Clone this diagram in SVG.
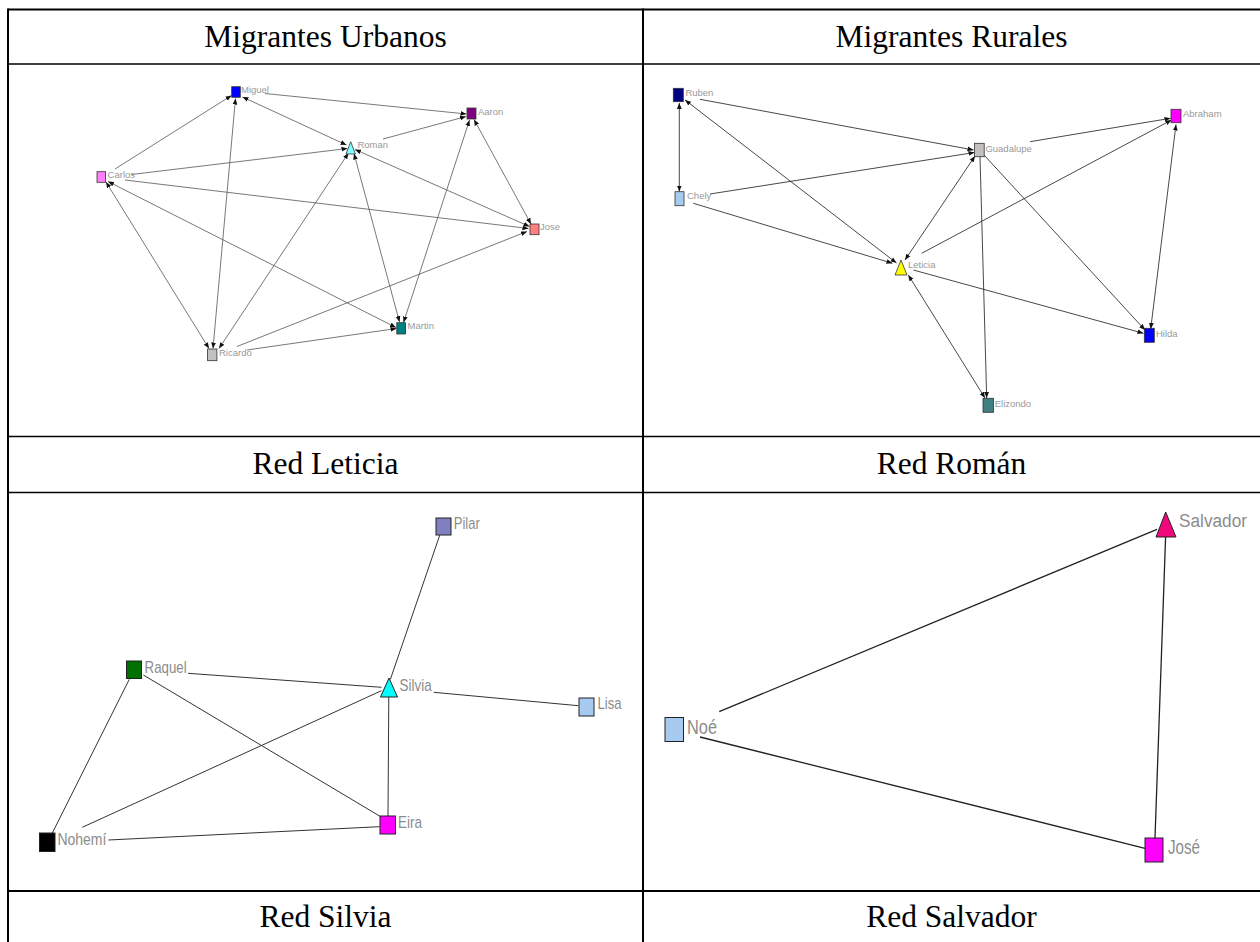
<svg xmlns="http://www.w3.org/2000/svg" width="1260" height="942" viewBox="0 0 1260 942">
<defs>
<marker id="ah" viewBox="0 0 10 10" refX="10" refY="5" markerWidth="6" markerHeight="6" markerUnits="userSpaceOnUse" orient="auto-start-reverse">
<path d="M0,1 L10,5 L0,9 z" fill="#111"/>
</marker>
<style>
.title{font-family:"Liberation Serif","Times New Roman",serif;font-size:31.5px;fill:#000;text-anchor:middle}
.grid{stroke:#000;stroke-width:2;fill:none}
.gridt{stroke:#000;stroke-width:1.5;fill:none}
.e1{stroke:#555;stroke-width:0.8;fill:none}
.e2{stroke:#333;stroke-width:0.9;fill:none}
.e3{stroke:#333;stroke-width:1;fill:none}
.e4{stroke:#222;stroke-width:1.3;fill:none}
.end{marker-end:url(#ah)}
.both{marker-start:url(#ah);marker-end:url(#ah)}
.n{stroke:#333;stroke-width:0.8}
.n3{stroke:#222;stroke-width:1}
.ls{font-family:"Liberation Sans",Arial,sans-serif;font-size:9.5px;fill:#999}
.lm{font-family:"Liberation Sans",Arial,sans-serif;font-size:17px;fill:#8c8c8c}
.ll{font-family:"Liberation Sans",Arial,sans-serif;font-size:21px;fill:#8c8c8c}
</style>
</defs>
<rect width="1260" height="942" fill="#fff"/>

<g id="table">
<line class="grid" x1="8" y1="9.5" x2="1260" y2="9.5"/>
<line class="grid" x1="8" y1="8.5" x2="8" y2="942"/>
<line class="grid" x1="643" y1="8.5" x2="643" y2="942"/>
<line class="gridt" x1="8" y1="64" x2="1260" y2="64"/>
<line class="gridt" x1="8" y1="436.5" x2="1260" y2="436.5"/>
<line class="gridt" x1="8" y1="492.5" x2="1260" y2="492.5"/>
<line class="grid" x1="8" y1="891" x2="1260" y2="891"/>
</g>

<g id="titles">
<text class="title" x="325.5" y="47">Migrantes Urbanos</text>
<text class="title" x="951.5" y="47">Migrantes Rurales</text>
<text class="title" x="325.5" y="474">Red Leticia</text>
<text class="title" x="951.5" y="474">Red Román</text>
<text class="title" x="325.5" y="927">Red Silvia</text>
<text class="title" x="951.5" y="927">Red Salvador</text>
</g>

<g id="connectors">
<!-- Migrantes Urbanos -->
<line class="e1 end" x1="115" y1="169" x2="231.5" y2="95.5"/>
<line class="e1 both" x1="235.5" y1="98.5" x2="213" y2="348.5"/>
<line class="e1 both" x1="242.5" y1="97" x2="346.5" y2="145"/>
<line class="e1 end" x1="265" y1="93.5" x2="466.5" y2="114"/>
<line class="e1 end" x1="383" y1="139" x2="466" y2="116.5"/>
<line class="e1 end" x1="131.5" y1="174.5" x2="347.5" y2="148.5"/>
<line class="e1 end" x1="125" y1="180" x2="528.5" y2="228.5"/>
<line class="e1 both" x1="106" y1="182" x2="209" y2="348.5"/>
<line class="e1 both" x1="108" y1="181.5" x2="396" y2="327.5"/>
<line class="e1 both" x1="219" y1="348.5" x2="348.5" y2="153"/>
<line class="e1 both" x1="354" y1="153.5" x2="399.5" y2="322"/>
<line class="e1 both" x1="355" y1="149.5" x2="529.5" y2="226.5"/>
<line class="e1 both" x1="469.5" y1="120" x2="403.5" y2="322.5"/>
<line class="e1 both" x1="474" y1="119.5" x2="531" y2="224"/>
<line class="e1 end" x1="237" y1="346.5" x2="527" y2="231.5"/>
<line class="e1 end" x1="247" y1="350" x2="396.5" y2="328.5"/>
<!-- Migrantes Rurales -->
<line class="e2 both" x1="679.3" y1="103" x2="679.3" y2="191.5"/>
<line class="e2 end" x1="700" y1="99.3" x2="973.5" y2="150"/>
<line class="e2 both" x1="685" y1="100" x2="896.5" y2="263"/>
<line class="e2 end" x1="710" y1="194" x2="974.5" y2="152.5"/>
<line class="e2 end" x1="693.3" y1="203.3" x2="892.5" y2="263.3"/>
<line class="e2 both" x1="905" y1="260" x2="975" y2="156"/>
<line class="e2 end" x1="921.7" y1="253.3" x2="1171.5" y2="120"/>
<line class="e2 end" x1="1030" y1="141.7" x2="1170.5" y2="118.3"/>
<line class="e2 end" x1="980" y1="156.7" x2="986.7" y2="398"/>
<line class="e2 end" x1="984" y1="155" x2="1145" y2="330"/>
<line class="e2 both" x1="908.3" y1="275" x2="985" y2="398"/>
<line class="e2 end" x1="913.3" y1="270" x2="1143.5" y2="333.3"/>
<line class="e2 both" x1="1176" y1="124.5" x2="1150.7" y2="329"/>
<!-- Red Leticia -->
<line class="e3" x1="439.8" y1="535" x2="390.4" y2="679.3"/>
<line class="e3" x1="188" y1="673.3" x2="381.5" y2="687.3"/>
<line class="e3" x1="433.7" y1="692.3" x2="578.3" y2="705.7"/>
<line class="e3" x1="388.8" y1="696.7" x2="388" y2="816"/>
<line class="e3" x1="143.4" y1="675" x2="380.7" y2="816.7"/>
<line class="e3" x1="129.3" y1="679.3" x2="52.2" y2="833.3"/>
<line class="e3" x1="82.3" y1="827.3" x2="381.5" y2="690.7"/>
<line class="e3" x1="108.4" y1="840" x2="379.5" y2="826.7"/>
<!-- Red Román -->
<line class="e4" x1="719.2" y1="711.7" x2="1157" y2="529.3"/>
<line class="e4" x1="700" y1="737" x2="1145" y2="848.3"/>
<line class="e4" x1="1165.6" y1="537" x2="1155" y2="838"/>
</g>

<!-- Migrantes Urbanos nodes -->
<g id="miguel"><rect class="n" x="231.7" y="86.7" width="8.6" height="10.6" fill="#0000ff"/><text class="ls" x="241" y="93">Miguel</text></g>
<g id="aaron"><rect class="n" x="467" y="108" width="9" height="11" fill="#800080"/><text class="ls" x="478" y="115">Aaron</text></g>
<g id="roman"><polygon class="n" points="350.7,141.7 346,154 355.4,154" fill="#80ffff"/><text class="ls" x="357.4" y="148.3">Roman</text></g>
<g id="carlos"><rect class="n" x="97" y="171.7" width="8.6" height="10.6" fill="#ff80ff"/><text class="ls" x="107.6" y="178">Carlos</text></g>
<g id="jose-u"><rect class="n" x="530" y="224" width="9" height="10.7" fill="#ff8080"/><text class="ls" x="540" y="230">Jose</text></g>
<g id="martin"><rect class="n" x="396.8" y="322.7" width="8.8" height="11.3" fill="#008080"/><text class="ls" x="407.6" y="329">Martin</text></g>
<g id="ricardo"><rect class="n" x="207.6" y="349" width="9.3" height="11.7" fill="#c0c0c0"/><text class="ls" x="219" y="356">Ricardo</text></g>

<!-- Migrantes Rurales nodes -->
<g id="ruben"><rect class="n" x="673.3" y="88.3" width="10" height="13.4" fill="#000080"/><text class="ls" x="685.4" y="96">Ruben</text></g>
<g id="abraham"><rect class="n" x="1171" y="109.3" width="10" height="13.4" fill="#ff00ff"/><text class="ls" x="1183" y="117">Abraham</text></g>
<g id="guadalupe"><rect class="n" x="974.6" y="143.3" width="9.6" height="13.4" fill="#c0c0c0"/><text class="ls" x="985.4" y="151.7">Guadalupe</text></g>
<g id="chely"><rect class="n" x="675" y="191.7" width="9" height="14" fill="#a6caf0"/><text class="ls" x="687" y="199">Chely</text></g>
<g id="leticia"><polygon class="n" points="901,260 895,275 907,275" fill="#ffff00"/><text class="ls" x="908" y="268">Leticia</text></g>
<g id="hilda"><rect class="n" x="1144.3" y="328.3" width="10" height="14" fill="#0000ff"/><text class="ls" x="1156" y="337">Hilda</text></g>
<g id="elizondo"><rect class="n" x="983" y="398.3" width="10.5" height="14" fill="#408080"/><text class="ls" x="994.7" y="407">Elizondo</text></g>

<!-- Red Leticia nodes -->
<g id="pilar"><rect class="n3" x="436" y="518" width="15" height="17" fill="#8080c0"/><text class="lm" x="453.8" y="529" textLength="26" lengthAdjust="spacingAndGlyphs">Pilar</text></g>
<g id="raquel"><rect class="n3" x="126.5" y="661" width="15" height="17.5" fill="#007000"/><text class="lm" x="144.6" y="672.5" textLength="42" lengthAdjust="spacingAndGlyphs">Raquel</text></g>
<g id="silvia"><polygon class="n3" points="389,678 380.5,697 397.5,697" fill="#00ffff"/><text class="lm" x="399.6" y="691" textLength="32" lengthAdjust="spacingAndGlyphs">Silvia</text></g>
<g id="lisa"><rect class="n3" x="579" y="698" width="15" height="18" fill="#a6caf0"/><text class="lm" x="597.6" y="709" textLength="24" lengthAdjust="spacingAndGlyphs">Lisa</text></g>
<g id="eira"><rect class="n3" x="380" y="816" width="15.5" height="18" fill="#ff00ff"/><text class="lm" x="398" y="827.5" textLength="24" lengthAdjust="spacingAndGlyphs">Eira</text></g>
<g id="nohemi"><rect class="n3" x="39.5" y="833" width="15.5" height="18.5" fill="#000000"/><text class="lm" x="57.4" y="845" textLength="49" lengthAdjust="spacingAndGlyphs">Nohemí</text></g>

<!-- Red Román nodes -->
<g id="salvador"><polygon class="n3" points="1165.7,512 1156,537 1176,537" fill="#f0087c"/><text class="ll" x="1179" y="527" font-size="18" textLength="68" lengthAdjust="spacingAndGlyphs" style="font-size:18px">Salvador</text></g>
<g id="noe"><rect class="n3" x="665" y="717.5" width="18.5" height="24" fill="#a6caf0"/><text class="ll" x="687" y="734" textLength="30" lengthAdjust="spacingAndGlyphs">Noé</text></g>
<g id="jose-r"><rect class="n3" x="1145" y="838" width="18" height="24" fill="#ff00ff"/><text class="ll" x="1168" y="854" textLength="32" lengthAdjust="spacingAndGlyphs">José</text></g>
</svg>
